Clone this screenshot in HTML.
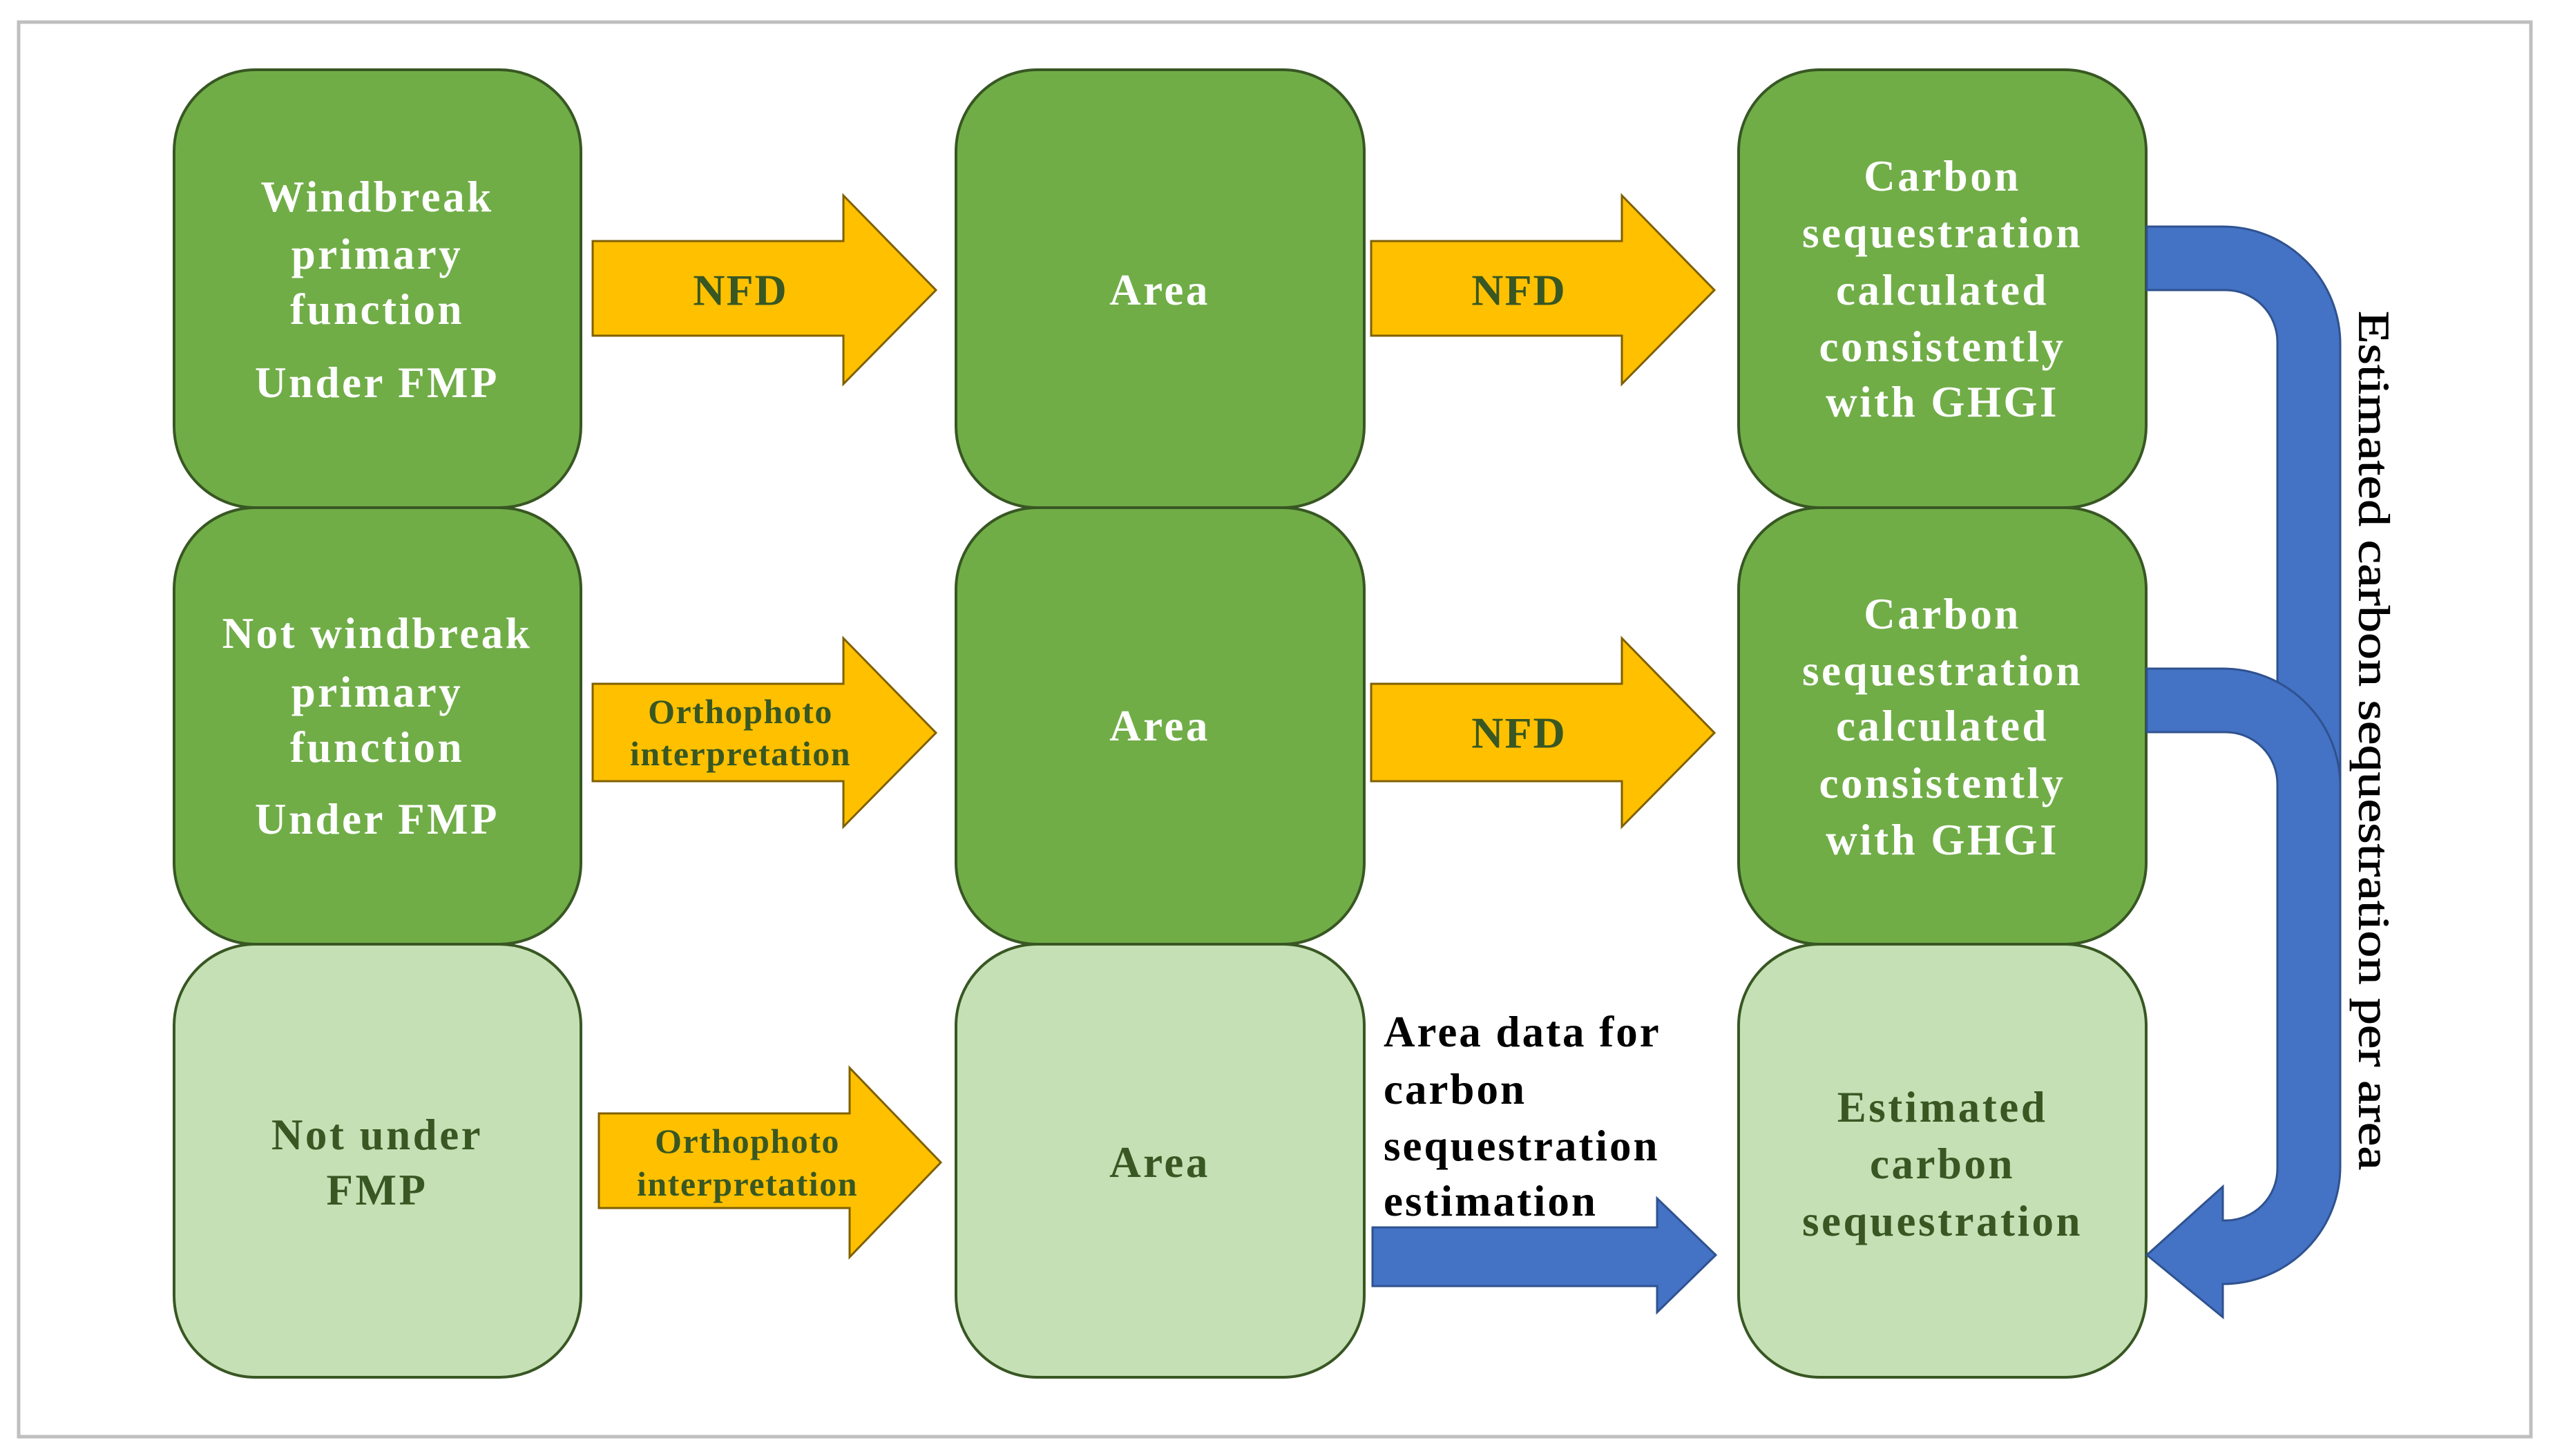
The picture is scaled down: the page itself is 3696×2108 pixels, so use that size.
<!DOCTYPE html>
<html><head><meta charset="utf-8"><style>html,body{margin:0;padding:0;background:#fff}svg{display:block}</style></head>
<body>
<svg width="3696" height="2108" viewBox="0 0 3696 2108" xmlns="http://www.w3.org/2000/svg" font-family="'Liberation Serif', serif" font-weight="bold">
<rect x="27" y="32" width="3637" height="2048" fill="#fff" stroke="#bfbfbf" stroke-width="5"/>
<g stroke="#385723" stroke-width="4">
<rect x="252" y="101" width="589" height="634" rx="118" fill="#70ad47"/>
<rect x="252" y="735" width="589" height="632" rx="118" fill="#70ad47"/>
<rect x="252" y="1367" width="589" height="627" rx="118" fill="#c5e0b4"/>
<rect x="1384" y="101" width="591" height="634" rx="118" fill="#70ad47"/>
<rect x="1384" y="735" width="591" height="632" rx="118" fill="#70ad47"/>
<rect x="1384" y="1367" width="591" height="627" rx="118" fill="#c5e0b4"/>
<rect x="2517" y="101" width="590" height="634" rx="118" fill="#70ad47"/>
<rect x="2517" y="735" width="590" height="632" rx="118" fill="#70ad47"/>
<rect x="2517" y="1367" width="590" height="627" rx="118" fill="#c5e0b4"/>
</g>
<g fill="#ffc000" stroke="#7f6000" stroke-width="3">
<polygon points="858,349 1221,349 1221,283 1355,420 1221,556 1221,486 858,486"/>
<polygon points="1985,349 2348,349 2348,283 2482,420 2348,556 2348,486 1985,486"/>
<polygon points="858,990 1221,990 1221,924 1355,1061 1221,1197 1221,1131 858,1131"/>
<polygon points="1985,990 2348,990 2348,924 2482,1061 2348,1197 2348,1131 1985,1131"/>
<polygon points="867,1612 1230,1612 1230,1546 1362,1683 1230,1820 1230,1749 867,1749"/>
</g>
<g fill="#4472c4" stroke="#2f528f" stroke-width="3">
<polygon points="1987,1777 2399,1777 2399,1735 2484,1817 2399,1900 2399,1862 1987,1862"/>
<path d="M3108,328 L3218,328 A170,170 0 0 1 3388,498 L3388,1160 L3297,1160 L3297,495 A75,75 0 0 0 3222,420 L3108,420 Z"/>
<path d="M3108,968 L3218,968 A170,170 0 0 1 3388,1138 L3388,1689 A170,170 0 0 1 3218,1859 L3218,1907 L3108,1817 L3218,1718 L3218,1767 L3222,1767 A75,75 0 0 0 3297,1692 L3297,1135 A75,75 0 0 0 3222,1060 L3108,1060 Z"/>
</g>
<g fill="#fff" font-size="63" text-anchor="middle" dominant-baseline="central" letter-spacing="3.5">
<text x="546" y="285">Windbreak</text>
<text x="546" y="368">primary</text>
<text x="546" y="448">function</text>
<text x="546" y="554">Under FMP</text>
<text x="546" y="917">Not windbreak</text>
<text x="546" y="1002">primary</text>
<text x="546" y="1082">function</text>
<text x="546" y="1186">Under FMP</text>
<text x="1679" y="420">Area</text>
<text x="1679" y="1051">Area</text>
<text x="2812" y="255">Carbon</text>
<text x="2812" y="337">sequestration</text>
<text x="2812" y="420">calculated</text>
<text x="2812" y="502">consistently</text>
<text x="2812" y="582">with GHGI</text>
<text x="2812" y="889">Carbon</text>
<text x="2812" y="971">sequestration</text>
<text x="2812" y="1051">calculated</text>
<text x="2812" y="1134">consistently</text>
<text x="2812" y="1216">with GHGI</text>
</g>
<g fill="#385723" font-size="63" text-anchor="middle" dominant-baseline="central" letter-spacing="3.5">
<text x="546" y="1643">Not under</text>
<text x="546" y="1723">FMP</text>
<text x="1679" y="1683">Area</text>
<text x="2812" y="1603">Estimated</text>
<text x="2812" y="1685">carbon</text>
<text x="2812" y="1768">sequestration</text>
<text x="1072" y="420" font-size="64" letter-spacing="2">NFD</text>
<text x="2199" y="420" font-size="64" letter-spacing="2">NFD</text>
<text x="2199" y="1061" font-size="64" letter-spacing="2">NFD</text>
<text x="1072" y="1030" font-size="50" letter-spacing="1.5">Orthophoto</text>
<text x="1072" y="1091" font-size="50" letter-spacing="1.5">interpretation</text>
<text x="1082" y="1652" font-size="50" letter-spacing="1.5">Orthophoto</text>
<text x="1082" y="1714" font-size="50" letter-spacing="1.5">interpretation</text>
</g>
<g fill="#000" font-size="63" dominant-baseline="central" letter-spacing="3">
<text x="2003" y="1494">Area data for</text>
<text x="2003" y="1577">carbon</text>
<text x="2003" y="1659">sequestration</text>
<text x="2003" y="1739">estimation</text>
</g>
<text transform="translate(3437,1072) rotate(90)" text-anchor="middle" dominant-baseline="central" font-size="64" font-weight="normal" fill="#000" stroke="#000" stroke-width="0.8" textLength="1244" lengthAdjust="spacingAndGlyphs">Estimated carbon sequestration per area</text>
</svg>
</body></html>
